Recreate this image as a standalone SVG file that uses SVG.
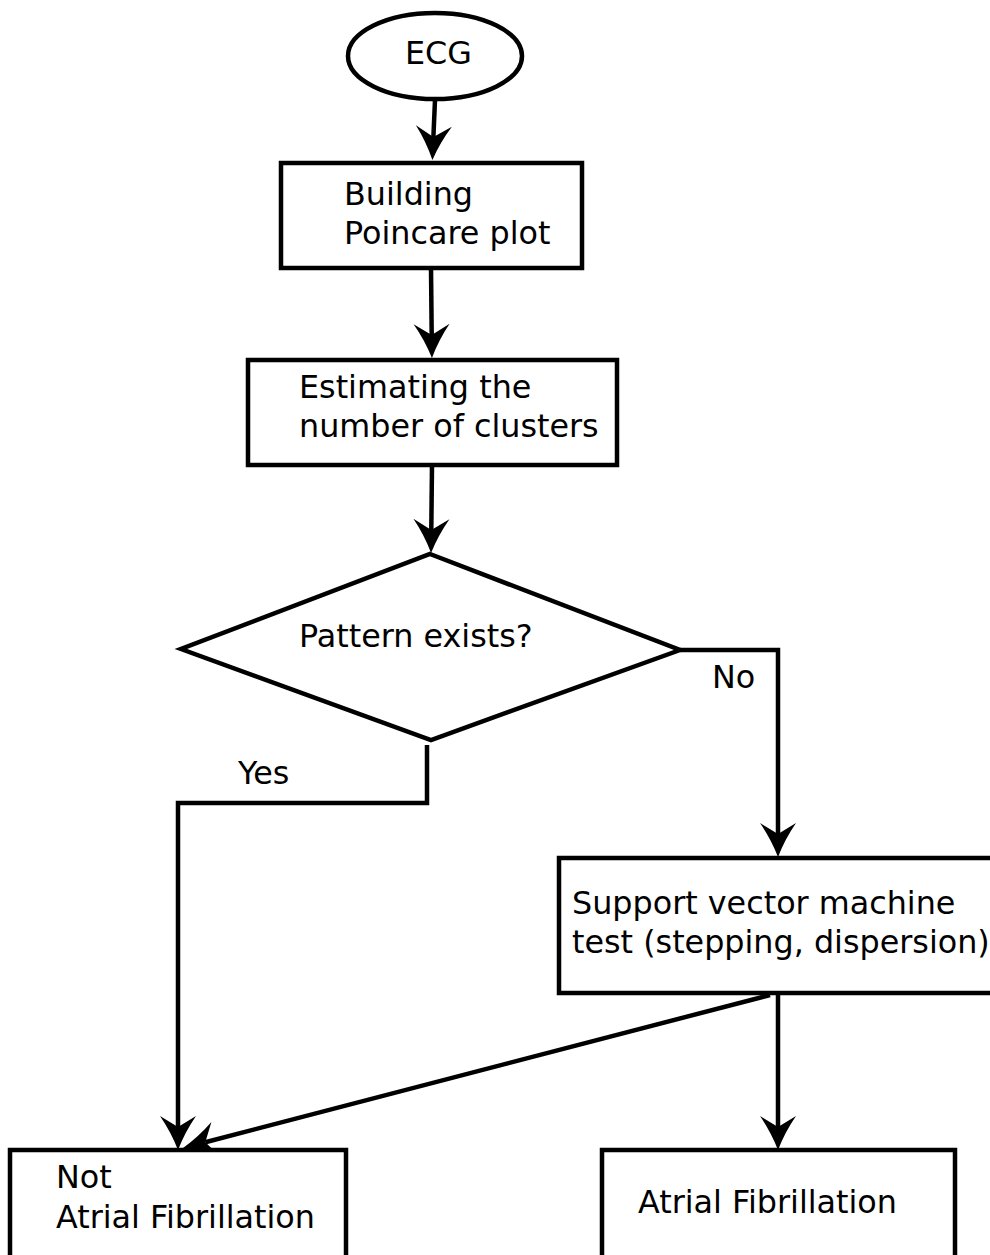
<svg xmlns="http://www.w3.org/2000/svg" width="990" height="1255" viewBox="0 0 990 1255">
<style>
.shape{fill:#fff;stroke:#000;stroke-width:4.5;stroke-linejoin:miter}
.lbl{font-family:"DejaVu Sans","Liberation Sans",sans-serif;font-size:31.8px;fill:#000}
.conn{fill:none;stroke:#000;stroke-width:4.5;marker-end:url(#ah)}
</style>
<defs>
<marker id="ah" markerUnits="userSpaceOnUse" markerWidth="40" markerHeight="40" viewBox="0 -20 40 40" refX="13" refY="0" orient="auto">
<path d="M36,0 Q18,-7 2,-18 L13,0 L2,18 Q18,7 36,0 Z" fill="#000"/>
</marker>
</defs>
<rect width="990" height="1255" fill="#fff"/>
<g id="connectors">
<path class="conn" d="M435,100 L433.4,137"/>
<path class="conn" d="M431,268 L431.7,335"/>
<path class="conn" d="M432,465 L431.3,530"/>
<path class="conn" d="M680,650 H778 V834"/>
<path class="conn" d="M427,745 V803 H178 V1127"/>
<path class="conn" d="M778,993 V1127"/>
<path class="conn" d="M770,995 L205.3,1142.2"/>
</g>
<g id="ecg">
<ellipse class="shape" cx="435" cy="56" rx="87" ry="43"/>
<text class="lbl" x="405" y="64">ECG</text>
</g>
<g id="poincare">
<rect class="shape" x="281" y="163" width="301" height="105"/>
<text class="lbl" x="344" y="205">Building</text>
<text class="lbl" x="344" y="244">Poincare plot</text>
</g>
<g id="clusters">
<rect class="shape" x="248" y="360" width="369" height="105"/>
<text class="lbl" x="299" y="398">Estimating the</text>
<text class="lbl" x="299" y="437">number of clusters</text>
</g>
<g id="pattern">
<path class="shape" d="M430,554 L680,650 L431,740 L181,649 Z"/>
<text class="lbl" x="299" y="647">Pattern exists?</text>
</g>
<g id="edge-labels">
<text class="lbl" x="712" y="688">No</text>
<text class="lbl" x="238" y="784">Yes</text>
</g>
<g id="svm">
<rect class="shape" x="559" y="858" width="460" height="135"/>
<text class="lbl" x="572" y="914">Support vector machine</text>
<text class="lbl" x="572" y="953">test (stepping, dispersion)</text>
</g>
<g id="not-af">
<rect class="shape" x="10" y="1150" width="336" height="120"/>
<text class="lbl" x="56" y="1188">Not</text>
<text class="lbl" x="56" y="1228">Atrial Fibrillation</text>
</g>
<g id="af">
<rect class="shape" x="602" y="1150" width="353" height="120"/>
<text class="lbl" x="638" y="1213">Atrial Fibrillation</text>
</g>
</svg>
